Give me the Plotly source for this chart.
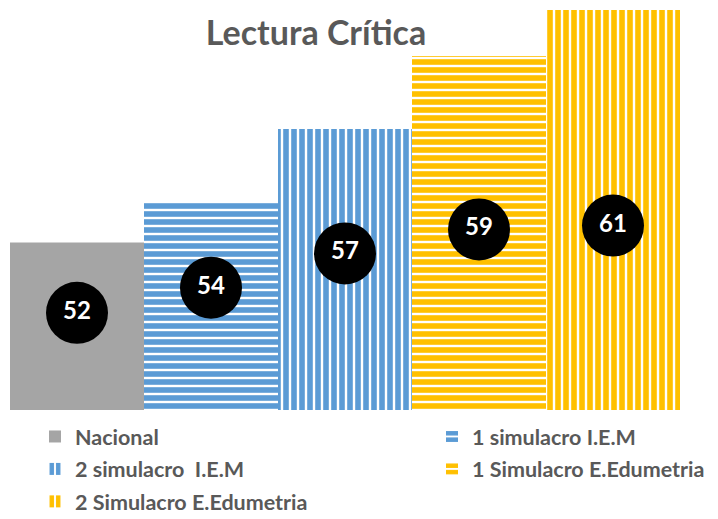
import plotly.graph_objects as go

# data (labels are rounded in the chart)
series = ["Nacional", "1 simulacro I.E.M", "2 simulacro\u00a0 I.E.M",
          "1 Simulacro E.Edumetria", "2 Simulacro E.Edumetria"]
scores = [52.4, 53.9, 56.6, 59.3, 61.0]

# styling
colors = ["#A5A5A5", "#5B9BD5", "#5B9BD5", "#FFC000", "#FFC000"]
shapes = ["", "-", "|", "-", "|"]
legend_of = ["legend", "legend2", "legend", "legend2", "legend"]  # two legend columns
y_base = 46.2
label_frac = [0.58, 0.588, 0.557, 0.51, 0.461]   # where the circle sits inside each bar
font_family = "Lato, 'Open Sans', sans-serif"

pos = list(range(len(series)))

fig = go.Figure()

for i, name, val, col, shp, lg in zip(pos, series, scores, colors, shapes, legend_of):
    fig.add_trace(go.Bar(
        x=[i], y=[val - y_base], base=y_base, width=1, name=name,
        legend=lg, legendgroup=name,
        marker=dict(color=col, line=dict(width=0),
                    pattern=dict(shape=shp, size=8, solidity=0.7,
                                 fgcolor=col, bgcolor="white", fgopacity=1)),
        hoverinfo="skip",
    ))

label_y = [y_base + f * (v - y_base) for f, v in zip(label_frac, scores)]
fig.add_trace(go.Scatter(
    x=pos, y=label_y, mode="markers+text",
    marker=dict(size=62, color="black"),
    text=[f"{v:.0f}" for v in scores], textposition="middle center",
    textfont=dict(family=font_family, size=24, color="white", weight="bold"),
    showlegend=False, hoverinfo="skip",
))

legend_font = dict(family=font_family, size=21.5, color="#595959", weight="bold")

# page has an 8px body margin; plot area lands at x 10..680, y 10..410 on the page
fig.update_layout(
    width=718, height=519,
    barmode="overlay",
    margin=dict(l=2, r=46, t=2, b=117),
    plot_bgcolor="white", paper_bgcolor="white",
    title=dict(text="<b>Lectura Crítica</b>", x=308 / 718, xanchor="center",
               y=1 - 25 / 519, yanchor="middle",
               font=dict(family=font_family, size=34, color="#595959")),
    legend=dict(orientation="v", x=25 / 670, xanchor="left", y=-0.015, yanchor="top",
                font=legend_font, tracegroupgap=1.5),
    legend2=dict(orientation="v", x=422 / 670, xanchor="left", y=-0.015, yanchor="top",
                 font=legend_font, tracegroupgap=1.5),
    xaxis=dict(range=[-0.5, 4.5], showticklabels=False, showgrid=False,
               zeroline=False, showline=False),
    yaxis=dict(range=[y_base, 61], showticklabels=False, showgrid=False,
               zeroline=False, showline=False),
)

fig.write_html("out.html")
